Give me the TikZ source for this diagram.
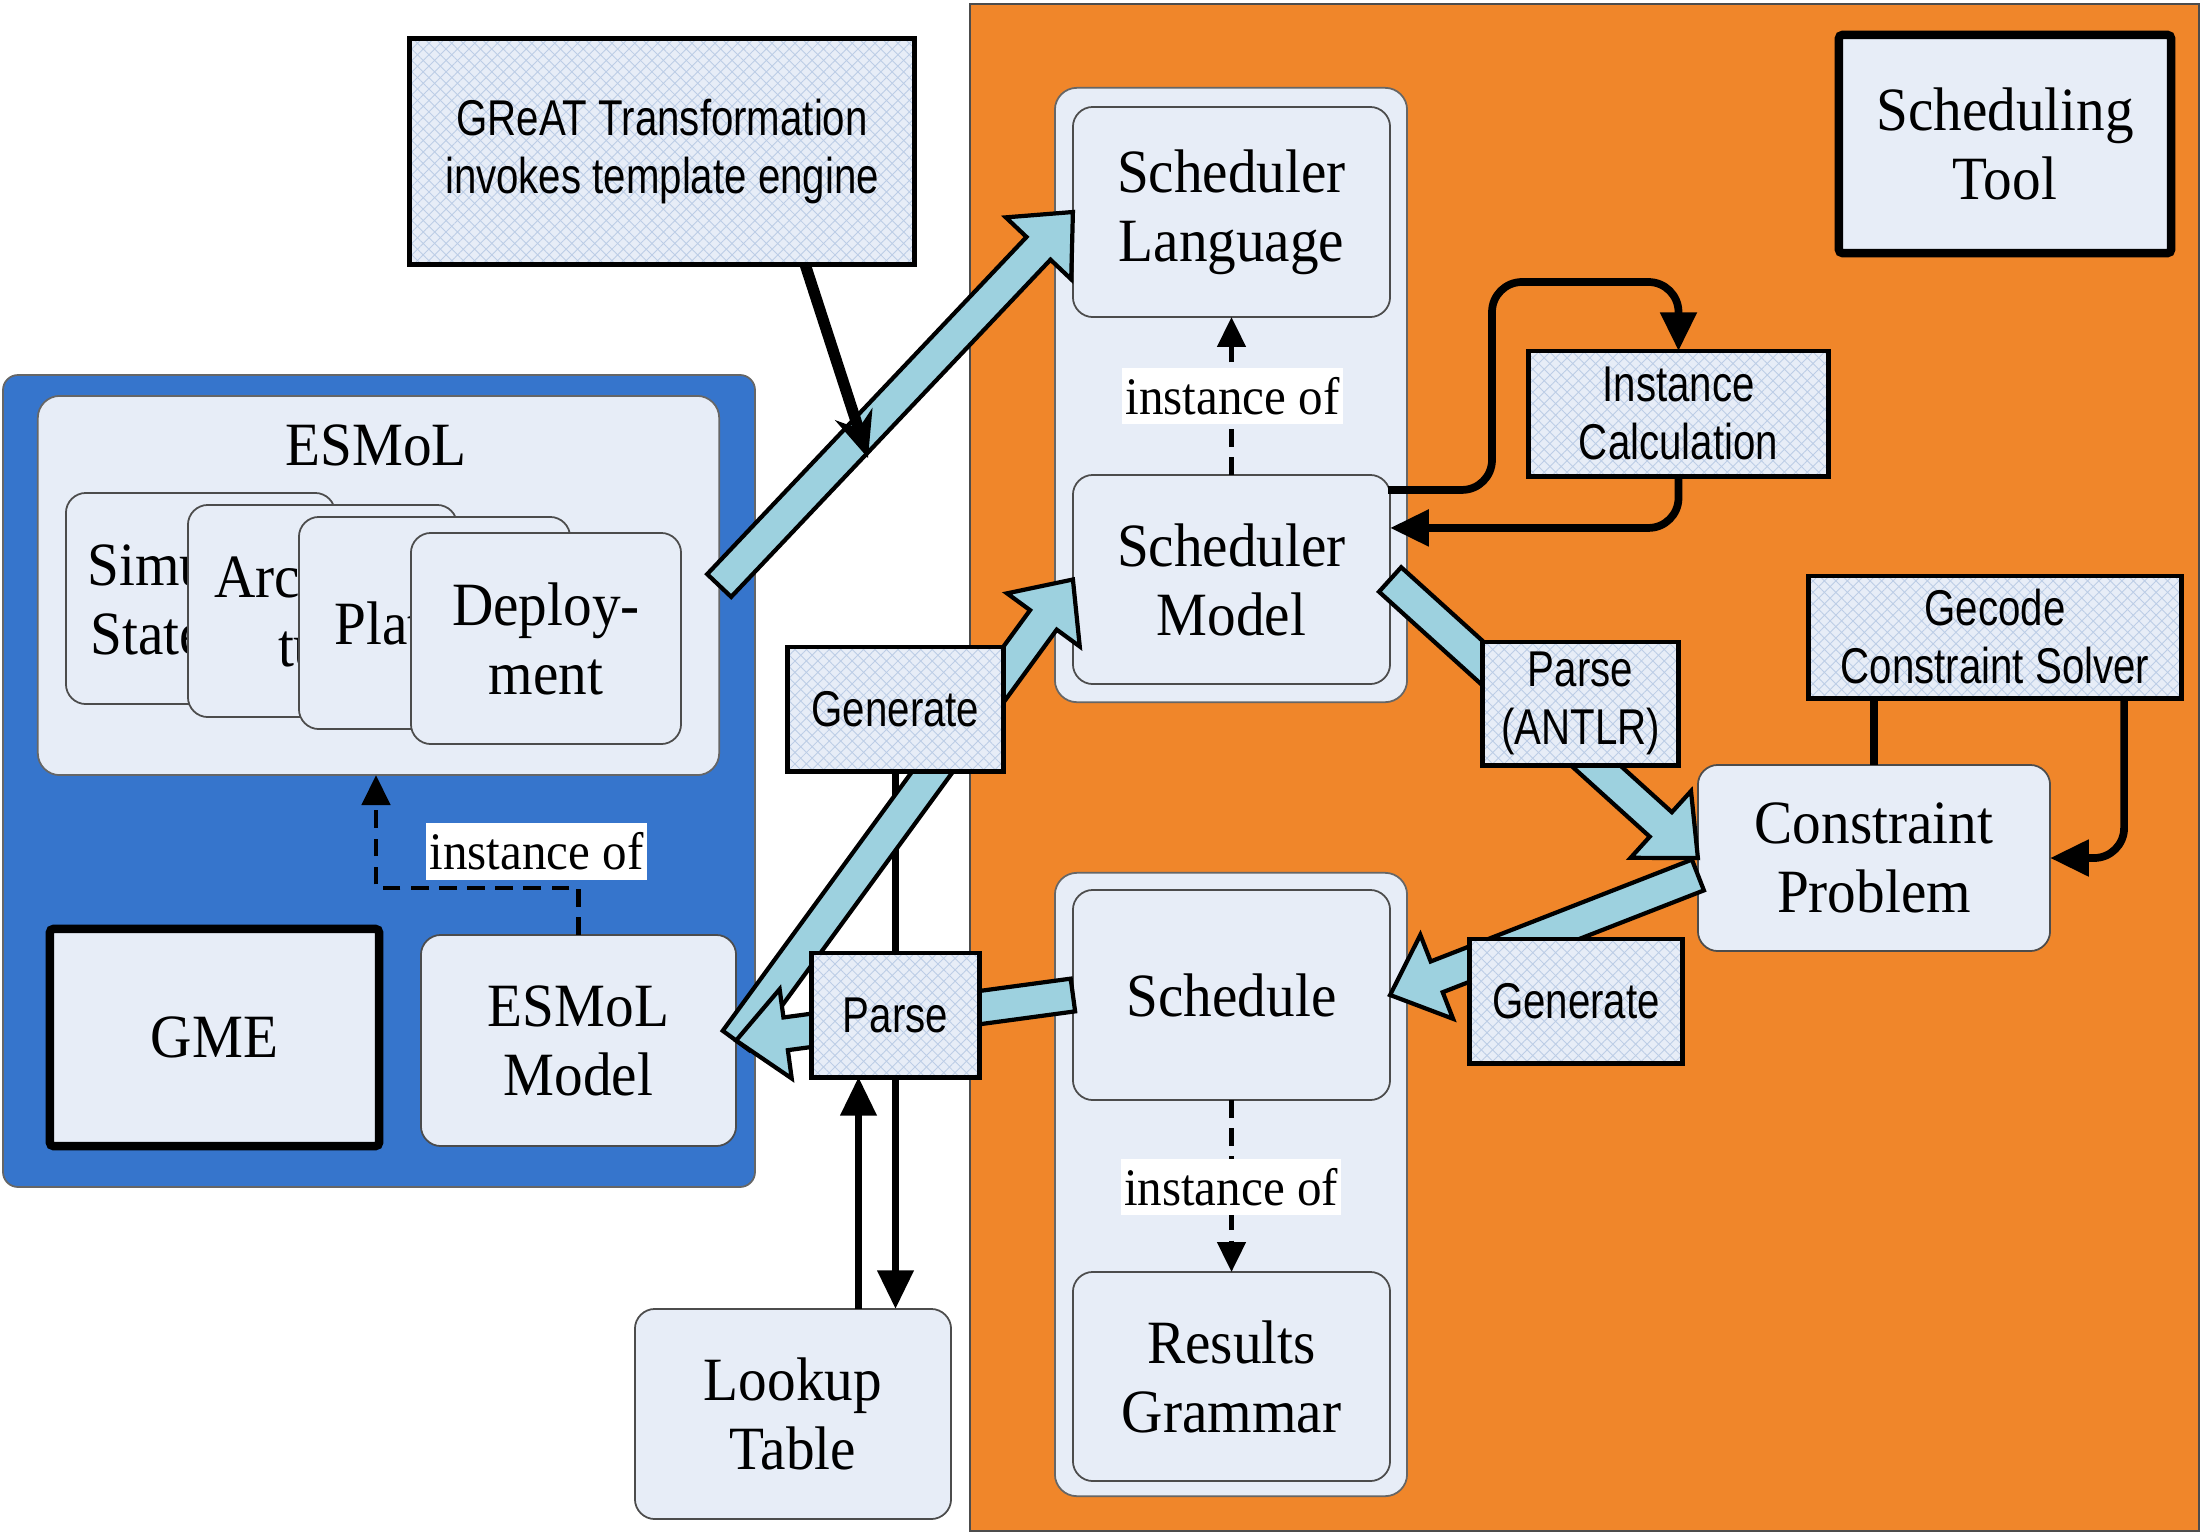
\documentclass[tikz,border=0pt]{standalone}
\usepackage{fontspec}
\setmainfont{Liberation Serif}[FakeStretch=0.93]
\newfontfamily\narrowsans{Liberation Sans}[FakeStretch=0.8]
\usetikzlibrary{calc,arrows.meta,patterns.meta}
\definecolor{lightfill}{HTML}{E7EDF7}
\definecolor{orangebg}{HTML}{F0862A}
\definecolor{bluebg}{HTML}{3675CC}
\definecolor{fatfill}{HTML}{9DD1DF}
\definecolor{hatchcol}{HTML}{BCCDE6}
\pgfdeclarelayer{bg}
\pgfdeclarelayer{mid}
\pgfdeclarelayer{fat}
\pgfsetlayers{bg,mid,fat,main}
\tikzset{
  roundbox/.style={draw=black!70, line width=0.5pt, fill=lightfill, rounded corners=0.2cm,
    inner sep=0pt, outer sep=0pt, align=center, font=\fontsize{17.5}{19.6}\selectfont},
  container/.style={draw=black!60, line width=0.5pt, fill=lightfill, rounded corners=0.22cm,
    inner sep=0pt, outer sep=0pt},
  heavybox/.style={draw=black, line width=2.4pt, fill=lightfill, rounded corners=1pt,
    inner sep=0pt, outer sep=0pt, align=center, font=\fontsize{17.5}{19.6}\selectfont},
  hatchbox/.style={preaction={fill=lightfill},
    preaction={pattern={Lines[angle=45,distance=2.3pt,line width=0.25pt]}, pattern color=hatchcol},
    preaction={pattern={Lines[angle=-45,distance=2.3pt,line width=0.25pt]}, pattern color=hatchcol},
    draw=black, line width=1.4pt, inner sep=0pt, outer sep=0pt, align=center,
    font=\narrowsans\fontsize{14.3}{16.5}\selectfont},
  instlabel/.style={fill=white, inner sep=0pt, minimum width=2.2cm, minimum height=0.56cm,
    font=\fontsize{15}{17}\selectfont},
  fatarrowstyle/.style={draw=black, line width=1.2pt, fill=fatfill, line join=miter, miter limit=10},
  blackline/.style={draw=black, line width=2pt},
  looparrow/.style={draw=black, line width=2.2pt, rounded corners=0.3cm, -{Triangle[length=11pt,width=10pt]}},
  dasharrow/.style={draw=black, line width=1.2pt, dash pattern=on 5pt off 3pt, -{Triangle[length=8.5pt,width=8pt]}},
  calloutline/.style={draw=black, line width=3.2pt, -{Stealth[length=13pt,width=11pt]}},
}
\newcommand{\fatarrow}[2]{%
  \path (#1) coordinate (fas) (#2) coordinate (fae);
  \coordinate (fah) at ($(fae)!0.5cm!(fas)$);
  \draw[fatarrowstyle]
    ($(fas)!0.165cm!90:(fae)$) -- ($(fah)!0.165cm!-90:(fas)$) -- ($(fah)!0.45cm!-90:(fas)$)
    -- (fae) -- ($(fah)!0.45cm!90:(fas)$) -- ($(fah)!0.165cm!90:(fas)$)
    -- ($(fas)!0.165cm!-90:(fae)$) -- cycle;
}
\begin{document}
\begin{tikzpicture}[x=0.01cm,y=-0.01cm]
\useasboundingbox (0,0) rectangle (2202,1536);
\begin{pgfonlayer}{bg}
  \fill[white] (0,0) rectangle (2202,1536);
  \draw[fill=orangebg, draw=black!70, line width=0.5pt] (970,4) rectangle (2199,1531);
  \draw[fill=bluebg, draw=black!60, line width=0.5pt, rounded corners=0.15cm] (3,375) rectangle (755,1187);
  % scheduler side
  \node[container, minimum width=3.52cm, minimum height=6.14cm] (upperC) at (1231,395) {};
  \node[container, minimum width=3.52cm, minimum height=6.23cm] (lowerC) at (1231,1184.5) {};
  \node[roundbox, minimum width=3.17cm, minimum height=2.10cm] (schedlang) at (1231.5,212) {Scheduler\\Language};
  \node[roundbox, minimum width=3.17cm, minimum height=2.09cm] (schedmodel) at (1231.5,579.5) {Scheduler\\Model};
  \node[roundbox, minimum width=3.17cm, minimum height=2.10cm] (schedule) at (1231.5,995) {Schedule};
  \node[roundbox, minimum width=3.17cm, minimum height=2.09cm] (results) at (1231.5,1376.5) {Results\\Grammar};
  \node[roundbox, minimum width=3.52cm, minimum height=1.86cm] (cp) at (1874,858) {Constraint\\Problem};
  \node[roundbox, minimum width=3.16cm, minimum height=2.10cm] (lookup) at (793,1414) {Lookup\\Table};
  \node[heavybox, minimum width=3.32cm, minimum height=2.18cm] (schedtool) at (2005,144) {Scheduling\\Tool};
  % ESMoL side
  \node[container, minimum width=6.81cm, minimum height=3.79cm] (esmol) at (378.5,585.5) {};
  \node[font=\fontsize{17.5}{19.6}\selectfont, inner sep=0pt] (esmoltitle) at (376,445) {ESMoL};
  \node[roundbox, minimum width=2.69cm, minimum height=2.11cm] (sub1) at (200.5,598.5) {Simu\phantom{link/}\\State\phantom{flow}};
  \node[roundbox, minimum width=2.69cm, minimum height=2.12cm] (sub2) at (322.5,611) {Arc\phantom{hitec-}\\tu\phantom{re}};
  \node[roundbox, minimum width=2.71cm, minimum height=2.12cm] (sub3) at (434.5,623) {Plat\phantom{form}};
  \node[roundbox, minimum width=2.70cm, minimum height=2.11cm] (sub4) at (546,638.5) {Deploy-\\ment};
  \node[heavybox, minimum width=3.29cm, minimum height=2.17cm] (gme) at (214.5,1037.5) {GME};
  \node[roundbox, minimum width=3.15cm, minimum height=2.11cm] (esmodel) at (578.5,1040.5) {ESMoL\\Model};
\end{pgfonlayer}
% hatched label boxes (main layer, above the fat arrows)
\node[hatchbox, minimum width=5.04cm, minimum height=2.25cm] (great) at (662,151.5) {GReAT Transformation\\invokes template engine};
\node[hatchbox, minimum width=2.99cm, minimum height=1.25cm] (instcalc) at (1678.5,413.5) {Instance\\Calculation};
\node[hatchbox, minimum width=3.72cm, minimum height=1.22cm] (gecode) at (1995,637) {Gecode\\Constraint Solver};
\node[hatchbox, minimum width=1.95cm, minimum height=1.23cm] (parseA) at (1580.5,703.5) {Parse\\(ANTLR)};
\node[hatchbox, minimum width=2.12cm, minimum height=1.24cm] (gen2) at (1576,1001) {Generate};
\node[hatchbox, minimum width=2.15cm, minimum height=1.24cm] (gen1) at (895.5,709) {Generate};
\node[hatchbox, minimum width=1.67cm, minimum height=1.24cm] (parse1) at (895.5,1015) {Parse};
% black lines under the fat arrows
\begin{pgfonlayer}{mid}
  \draw[blackline] (gen1.south) -- (parse1.north);
  \draw[blackline, -{Triangle[length=11pt,width=10pt]}] (parse1.south) -- (parse1.south |- lookup.north);
  \coordinate (upx) at ($(parse1.south)+(-37,0)$);
  \draw[blackline, -{Triangle[length=11pt,width=10pt]}] (upx |- lookup.north) -- (upx);
\end{pgfonlayer}
% fat arrows
\begin{pgfonlayer}{fat}
  \fatarrow{esmol.east}{schedlang.west}
  \fatarrow{esmodel.east}{schedmodel.west}
  \fatarrow{schedule.west}{esmodel.east}
  \fatarrow{$(cp.west)+(0,17)$}{schedule.east}
  \fatarrow{schedmodel.east}{cp.west}
\end{pgfonlayer}
% instance-of relations
\draw[dasharrow] (schedmodel.north) -- (schedlang.south);
\node[instlabel] (inst1) at (1232.5,396) {instance of};
\draw[dasharrow] (schedule.south) -- (results.north);
\node[instlabel] (inst2) at (1231,1187) {instance of};
\coordinate (dturn) at (376,888);
\draw[dasharrow] (esmodel.north) |- (dturn) -- (dturn |- esmol.south);
\node[instlabel] (inst3) at (536.5,851.5) {instance of};
% instance calculation loop
\coordinate (loopStart) at ($(schedmodel.north east)+(-2,15)$);
\coordinate (loopTop) at (1492,282);
\draw[looparrow] (loopStart) -| (loopTop) -| (instcalc.north);
\coordinate (retEnd) at ($(schedmodel.north east)+(0,53)$);
\draw[looparrow] (instcalc.south) |- (retEnd);
% gecode
\draw[blackline, line width=2.2pt] (cp.north) -- (cp.north |- gecode.south);
\coordinate (gecStart) at ($(gecode.south east)+(-57,0)$);
\draw[looparrow] (gecStart) |- (cp.east);
% callout
\coordinate (calloutTip) at (868,458);
\draw[calloutline] ($(great.south)+(143,0)$) -- (calloutTip);
\end{tikzpicture}
\end{document}
